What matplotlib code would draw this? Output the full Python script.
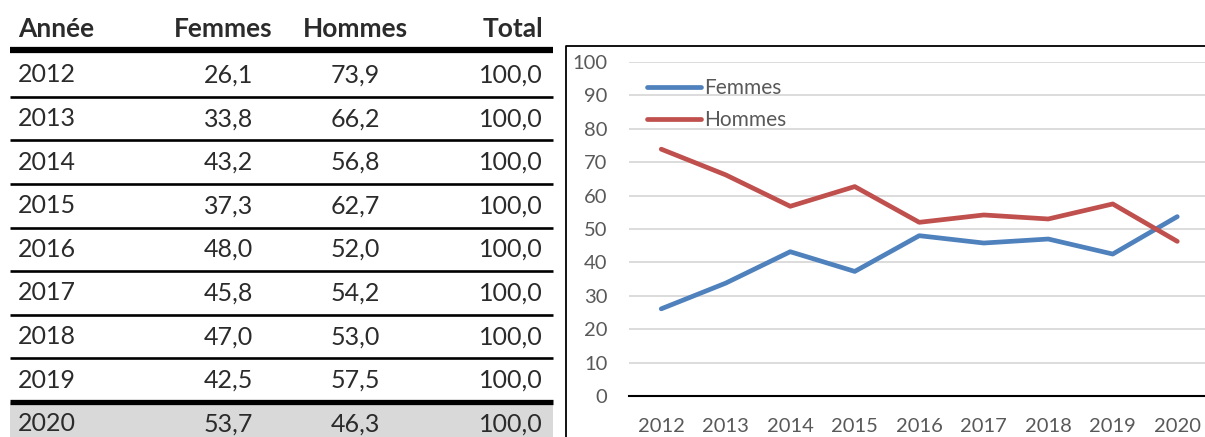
import matplotlib.pyplot as plt
import numpy as np

# data
annees = ['2012', '2013', '2014', '2015', '2016', '2017', '2018', '2019', '2020']
femmes = [26.1, 33.8, 43.2, 37.3, 48.0, 45.8, 47.0, 42.5, 53.7]
hommes = [73.9, 66.2, 56.8, 62.7, 52.0, 54.2, 53.0, 57.5, 46.3]
total = [100.0] * 9
colonnes = ['Année', 'Femmes', 'Hommes', 'Total']

plt.rcParams['font.family'] = ['Lato', 'DejaVu Sans']

W, H = 1205, 437
fig = plt.figure(figsize=(W / 100, H / 100), dpi=100)

# background axes in pixel coordinates (table + chart frame)
bg = fig.add_axes([0, 0, 1, 1])
bg.set_xlim(0, W)
bg.set_ylim(H, 0)
bg.axis('off')

def fr(v):
    return f'{v:.1f}'.replace('.', ',')

txt = '#2b2b2b'
row0 = 75
row_h = 43.6
col_x = [18, 272, 408, 543]
val_x = [18, 253, 380, 543]

# header
for j, c in enumerate(colonnes):
    bg.text(col_x[j], 29, c, ha='left' if j == 0 else 'right', va='center',
            fontsize=19, fontweight='bold', color=txt)
bg.plot([10, 553], [50, 50], color='black', lw=4.5, solid_capstyle='butt')

# gray last row
bg.fill_between([10, 553], row0 + 8 * row_h - 21.5, H, color='#d9d9d9', lw=0)

for i, a in enumerate(annees):
    y = row0 + i * row_h
    vals = [a, fr(femmes[i]), fr(hommes[i]), fr(total[i])]
    for j, v in enumerate(vals):
        bg.text(val_x[j], y, v, ha='left' if j == 0 else 'right', va='center',
                fontsize=18, color=txt)
    if i < len(annees) - 1:
        yl = y + row_h / 2
        lw = 3.8 if i == len(annees) - 2 else 1.9
        bg.plot([10, 553], [yl, yl], color='black', lw=lw, solid_capstyle='butt')

# chart frame
bg.plot([566, 566, W], [H, 46, 46], color='black', lw=1.3)

# chart
x0, x1 = 629, 1209.5
y0, y1 = 396, 62
ax = fig.add_axes([x0 / W, (H - y0) / H, (x1 - x0) / W, (y0 - y1) / H])
ax.set_facecolor('none')
xs = np.arange(len(annees))
ax.plot(xs, femmes, color='#4f81bd', lw=3.4, label='Femmes', solid_capstyle='round')
ax.plot(xs, hommes, color='#c0504d', lw=3.4, label='Hommes', solid_capstyle='round')
ax.set_xlim(-0.5, len(annees) - 0.5)
ax.set_ylim(0, 100)
ax.set_yticks(range(0, 101, 10))
ax.set_xticks(xs)
ax.set_xticklabels(annees)
ax.grid(axis='y', color='#d9d9d9', lw=1.3)
ax.set_axisbelow(True)
for s in ['top', 'right', 'left']:
    ax.spines[s].set_visible(False)
ax.spines['bottom'].set_linewidth(1.5)
ax.tick_params(length=0, labelsize=14.5, labelcolor='#595959')
ax.tick_params(axis='y', pad=15.5)
ax.tick_params(axis='x', pad=16)
for lbl in ax.get_yticklabels():
    lbl.set_horizontalalignment('right')

ax.legend(loc='upper left', bbox_to_anchor=(0.01, 0.99), frameon=False,
          fontsize=15, handlelength=2.6, handletextpad=0.15, labelspacing=0.6,
          labelcolor='#595959', borderaxespad=0.2)

fig.savefig('out.png', dpi=100)
